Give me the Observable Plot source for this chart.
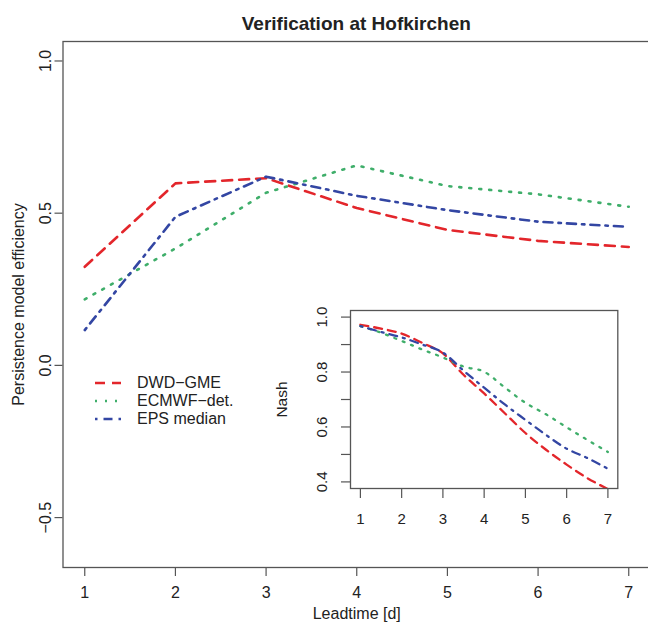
<!DOCTYPE html>
<html>
<head>
<meta charset="utf-8">
<script src="https://cdn.jsdelivr.net/npm/d3@7"></script>
<script src="https://cdn.jsdelivr.net/npm/@observablehq/plot@0.6"></script>
<style>
  html, body { margin: 0; padding: 0; background: #fff; overflow: hidden; }
  body { font-family: "Liberation Sans", Arial, Helvetica, sans-serif; color: #222; }
  #wrap { position: relative; width: 648px; height: 623px; overflow: hidden; }
  #title { position: absolute; left: 62.5px; width: 587.5px; top: 13px; text-align: center;
           font-size: 19px; font-weight: bold; line-height: 22px; color: #222; }
  #main { position: absolute; left: 0; top: 0; }
  #inset { position: absolute; left: 262px; top: 300px; }
  #legend { position: absolute; left: 93px; top: 374px; }
  .lrow { height: 18px; line-height: 18px; font-size: 16px; white-space: nowrap; display: flex; align-items: center; }
  .lrow svg { margin-right: 14px; }
</style>
</head>
<body>
<div id="wrap">
  <div id="main"></div>
  <div id="title">Verification at Hofkirchen</div>
  <div id="legend"></div>
  <div id="inset"></div>
</div>
<script>
// ---- data ----
const days = [1, 2, 3, 4, 5, 6, 7];
const dwdGme   = [0.324, 0.598, 0.615, 0.517, 0.445, 0.409, 0.389];
const ecmwfDet = [0.217, 0.384, 0.567, 0.657, 0.589, 0.562, 0.521];
const epsMedian= [0.116, 0.488, 0.620, 0.557, 0.510, 0.472, 0.455];

const insetDays = [1, 1.5, 2, 2.5, 3, 3.5, 4, 4.5, 5, 5.5, 6, 6.5, 7];
const nashDwd   = [0.972, 0.958, 0.940, 0.906, 0.868, 0.790, 0.722, 0.650, 0.578, 0.517, 0.463, 0.414, 0.374];
const nashEcmwf = [0.967, 0.943, 0.913, 0.882, 0.853, 0.820, 0.801, 0.744, 0.688, 0.646, 0.599, 0.553, 0.509];
const nashEps   = [0.967, 0.946, 0.926, 0.900, 0.871, 0.805, 0.743, 0.682, 0.626, 0.571, 0.521, 0.487, 0.448];

const seriesNames = ["DWD\u2212GME", "ECMWF\u2212det.", "EPS median"];
const mainXTicks = [1, 2, 3, 4, 5, 6, 7];
const mainYTicks = [-0.5, 0, 0.5, 1.0];
const insetXTicks = [1, 2, 3, 4, 5, 6, 7];
const insetYTicks = [0.4, 0.5, 0.6, 0.7, 0.8, 0.9, 1.0];
const insetYLabels = [0.4, 0.6, 0.8, 1.0];

// ---- styles ----
const styles = {
  [seriesNames[0]]: { color: "#e3262b", dash: "10,7" },
  [seriesNames[1]]: { color: "#3fae6a", dash: "2,8" },
  [seriesNames[2]]: { color: "#3346a3", dash: "2.5,6,9,6" }
};
const insetDash = {
  [seriesNames[0]]: "8,6",
  [seriesNames[1]]: "2,7",
  [seriesNames[2]]: "2,6,8,6"
};

const mainSeries = [dwdGme, ecmwfDet, epsMedian].map((vals, i) =>
  days.map((d, j) => ({ series: seriesNames[i], day: d, value: vals[j] })));
const insetSeries = [nashDwd, nashEcmwf, nashEps].map((vals, i) =>
  insetDays.map((d, j) => ({ series: seriesNames[i], day: d, value: vals[j] })));

const fmt1 = d3.format(".1f");
const axisColor = "#555";
const textColor = "#222";

// ---- main plot ----
const mainLines = mainSeries.map(rows => Plot.line(rows, {
  x: "day", y: "value",
  stroke: styles[rows[0].series].color,
  strokeWidth: 2.6,
  strokeDasharray: styles[rows[0].series].dash,
  strokeLinejoin: "round"
}));

const main = Plot.plot({
  width: 648, height: 623,
  marginLeft: 62.5, marginRight: -2, marginTop: 41, marginBottom: 56,
  style: { fontFamily: "Liberation Sans, Arial, sans-serif", color: textColor, background: "transparent", overflow: "hidden" },
  x: { domain: [0.76, 7.24] },
  y: { domain: [-0.664, 1.064] },
  marks: [
    Plot.axisX({ ticks: mainXTicks, tickSize: 9, tickFormat: () => "", label: null, stroke: axisColor, strokeWidth: 1.2 }),
    Plot.axisY({ ticks: mainYTicks, tickSize: 8, tickFormat: () => "", label: null, stroke: axisColor, strokeWidth: 1.2 }),
    Plot.text(mainXTicks, { x: d => d, frameAnchor: "bottom", dy: 25, text: d => String(d), fontSize: 16, fill: textColor, lineAnchor: "middle" }),
    Plot.text(mainYTicks, { y: d => d, frameAnchor: "left", dx: -17.5, rotate: -90, text: d => fmt1(d), fontSize: 16, fill: textColor, lineAnchor: "middle", textAnchor: "middle" }),
    Plot.text(["Leadtime [d]"], { frameAnchor: "bottom", dy: 46, text: d => d, fontSize: 16, fill: textColor, lineAnchor: "middle" }),
    Plot.text(["Persistence model efficiency"], { frameAnchor: "left", dx: -44.5, rotate: -90, text: d => d, fontSize: 16, fill: textColor, lineAnchor: "middle", textAnchor: "middle" }),
    ...mainLines,
    Plot.frame({ stroke: axisColor, strokeWidth: 1.3 })
  ]
});
document.getElementById("main").appendChild(main);

// ---- legend ----
const legend = document.getElementById("legend");
seriesNames.forEach(name => {
  const row = document.createElement("div");
  row.className = "lrow";
  const s = styles[name];
  row.innerHTML = `<svg width="30" height="18"><line x1="2" x2="28" y1="9" y2="9" stroke="${s.color}" stroke-width="2.6" stroke-dasharray="${s.dash}"/></svg><span>${name}</span>`;
  legend.appendChild(row);
});

// ---- inset ----
const insetLines = insetSeries.map(rows => Plot.line(rows, {
  x: "day", y: "value",
  stroke: styles[rows[0].series].color,
  strokeWidth: 2.3,
  strokeDasharray: insetDash[rows[0].series],
  strokeLinejoin: "round",
  curve: "monotone-x",
  clip: true
}));

const inset = Plot.plot({
  width: 360, height: 230,
  marginLeft: 88, marginRight: 4.7, marginTop: 10, marginBottom: 42,
  style: { fontFamily: "Liberation Sans, Arial, sans-serif", color: textColor, background: "transparent", overflow: "visible" },
  x: { domain: [0.76, 7.24] },
  y: { domain: [0.376, 1.024] },
  marks: [
    Plot.frame({ fill: "#fff" }),
    Plot.axisX({ ticks: insetXTicks, tickSize: 10, tickFormat: () => "", label: null, stroke: axisColor, strokeWidth: 1.2 }),
    Plot.axisY({ ticks: insetYTicks, tickSize: 9, tickFormat: () => "", label: null, stroke: axisColor, strokeWidth: 1.2 }),
    Plot.text(insetXTicks, { x: d => d, frameAnchor: "bottom", dy: 31, text: d => String(d), fontSize: 15, fill: textColor, lineAnchor: "middle" }),
    Plot.text(insetYLabels, { y: d => d, frameAnchor: "left", dx: -28.3, rotate: -90, text: d => fmt1(d), fontSize: 15, fill: textColor, lineAnchor: "middle", textAnchor: "middle" }),
    Plot.text(["Nash"], { frameAnchor: "left", dx: -68.3, rotate: -90, text: d => d, fontSize: 15.5, fill: textColor, lineAnchor: "middle", textAnchor: "middle" }),
    ...insetLines,
    Plot.frame({ stroke: axisColor, strokeWidth: 1.3 })
  ]
});
document.getElementById("inset").appendChild(inset);
</script>
</body>
</html>
